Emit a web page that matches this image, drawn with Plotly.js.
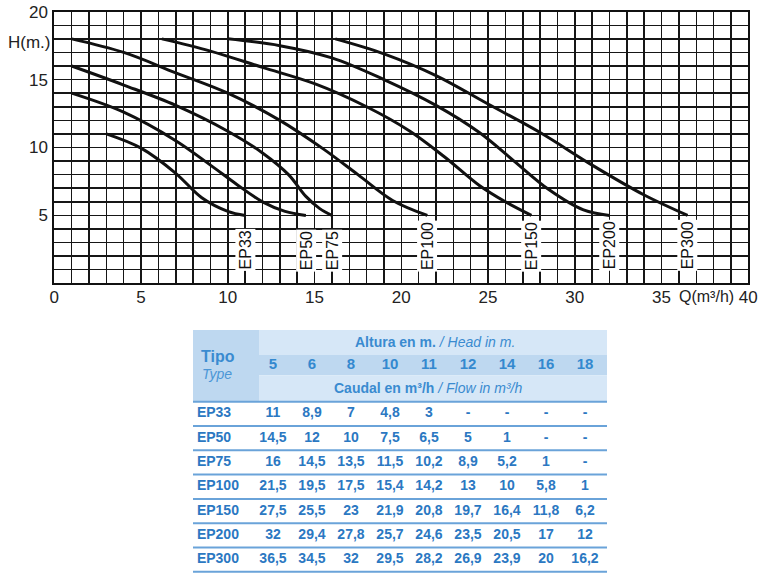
<!DOCTYPE html>
<html>
<head>
<meta charset="utf-8">
<script src="https://cdn.plot.ly/plotly-3.0.1.min.js"></script>
<style>html,body{margin:0;padding:0;background:#fff;}#chart{width:766px;height:573px;}</style>
</head>
<body>
<div id="chart"></div>
<script>
// ---- Table data (head in m -> flow in m3/h) ----
const heads = [5, 6, 8, 10, 11, 12, 14, 16, 18];
const pumpTypes = ['EP33', 'EP50', 'EP75', 'EP100', 'EP150', 'EP200', 'EP300'];
const flowEP33  = [11, 8.9, 7, 4.8, 3, null, null, null, null];
const flowEP50  = [14.5, 12, 10, 7.5, 6.5, 5, 1, null, null];
const flowEP75  = [16, 14.5, 13.5, 11.5, 10.2, 8.9, 5.2, 1, null];
const flowEP100 = [21.5, 19.5, 17.5, 15.4, 14.2, 13, 10, 5.8, 1];
const flowEP150 = [27.5, 25.5, 23, 21.9, 20.8, 19.7, 16.4, 11.8, 6.2];
const flowEP200 = [32, 29.4, 27.8, 25.7, 24.6, 23.5, 20.5, 17, 12];
const flowEP300 = [36.5, 34.5, 32, 29.5, 28.2, 26.9, 23.9, 20, 16.2];
const allFlows = [flowEP33, flowEP50, flowEP75, flowEP100, flowEP150, flowEP200, flowEP300];

// ---- Pump curves (Q in m3/h, H in m) ----
const curveEP33Q  = [3, 5, 7, 8.5, 10, 11];
const curveEP33H  = [11, 9.95, 8.1, 6.3, 5.3, 5];
const curveEP50Q  = [1, 4, 7, 9, 10.5, 12, 13.3, 14.5];
const curveEP50H  = [14, 12.6, 10.5, 8.7, 7.3, 6.0, 5.3, 5.0];
const curveEP75Q  = [1, 4, 7, 10, 12, 13.5, 14.5, 15.3, 16];
const curveEP75H  = [16, 14.6, 13.1, 11.2, 9.6, 8.0, 6.4, 5.5, 5.0];
const curveEP100Q = [1, 4, 7, 10, 13, 15.5, 17.5, 19.5, 21.5];
const curveEP100H = [18, 17.0, 15.5, 14, 12, 9.9, 8, 6.1, 5.0];
const curveEP150Q = [6.2, 9, 12, 15, 18, 20.5, 22.5, 24.5, 26, 27.5];
const curveEP150H = [18, 17.1, 15.9, 14.7, 13.0, 11.2, 9.3, 7.2, 6.0, 5.0];
const curveEP200Q = [10, 13, 16, 19, 22, 24.5, 26.5, 28.5, 30.5, 32];
const curveEP200H = [18, 17.5, 16.6, 15.0, 13.1, 11.1, 9.0, 6.9, 5.4, 5.0];
const curveEP300Q = [16.2, 19, 22, 25, 28, 31, 34, 36.5];
const curveEP300H = [18, 16.9, 15.3, 13.2, 11.1, 8.7, 6.5, 5.0];
const curvesQ = [curveEP33Q, curveEP50Q, curveEP75Q, curveEP100Q, curveEP150Q, curveEP200Q, curveEP300Q];
const curvesH = [curveEP33H, curveEP50H, curveEP75H, curveEP100H, curveEP150H, curveEP200H, curveEP300H];

// ---- Axis tick labels ----
const xTickVals = [0, 5, 10, 15, 20, 25, 30, 35, 40];
const xTickText = ['0', '5', '10', '15', '20', '25', '30', '35', '40'];
const yTickVals = [5, 10, 15, 20];
const yTickText = ['5', '10', '15', '20'];

const tickFont = {family: 'Liberation Sans, Arial, sans-serif', size: 17, color: '#222'};
const gridCol = '#161616';
const blueTxt = '#2b78c2';

const traces = [];
const annotations = [];

pumpTypes.forEach((name, i) => {
  traces.push({
    type: 'scatter', mode: 'lines', x: curvesQ[i], y: curvesH[i], xaxis: 'x', yaxis: 'y',
    line: {color: '#111', width: 3, shape: 'spline', smoothing: 1},
    hoverinfo: 'skip', showlegend: false
  });
  const q = curvesQ[i];
  annotations.push({
    xref: 'x', yref: 'y', x: q[q.length - 1], y: 0.85, yanchor: 'bottom', xanchor: 'center',
    text: name, textangle: -90, showarrow: false, bgcolor: '#fff', borderpad: 1,
    font: {family: 'Liberation Sans, Arial, sans-serif', size: 16, color: '#111'}
  });
});

annotations.push({xref: 'x', yref: 'paper', x: 37.6, y: (573 - 296) / 573, yanchor: 'middle', xanchor: 'center',
  text: 'Q(m³/h)', showarrow: false, font: {family: 'Liberation Sans, Arial, sans-serif', size: 16, color: '#222'}});
annotations.push({xref: 'paper', yref: 'y', x: 29 / 766, y: 17.75, xanchor: 'center', yanchor: 'middle',
  text: 'H(m.)', showarrow: false, font: tickFont});

// ---- Table drawn on x2/y2 ----
const colX0 = 2.051;
const headX = heads.map((_, i) => colX0 + i);
const rowY = pumpTypes.map((_, r) => r + 0.5);

const valX = [], valY = [], valT = [];
allFlows.forEach((row, r) => {
  row.forEach((v, j) => {
    valX.push(headX[j]); valY.push(rowY[r]);
    valT.push(v === null ? '-' : String(v).replace('.', ','));
  });
});
traces.push({
  type: 'scatter', mode: 'text', x: valX, y: valY, text: valT, xaxis: 'x2', yaxis: 'y2',
  textposition: 'middle center', hoverinfo: 'skip', showlegend: false,
  textfont: {family: 'Liberation Sans, Arial, sans-serif', size: 14, color: blueTxt},
  texttemplate: '<b>%{text}</b>'
});
traces.push({
  type: 'scatter', mode: 'text', x: pumpTypes.map(() => 0.1), y: rowY, text: pumpTypes, xaxis: 'x2', yaxis: 'y2',
  textposition: 'middle right', hoverinfo: 'skip', showlegend: false,
  textfont: {family: 'Liberation Sans, Arial, sans-serif', size: 14, color: blueTxt},
  texttemplate: '<b>%{text}</b>'
});
traces.push({
  type: 'scatter', mode: 'text', x: headX, y: heads.map(() => -1.5), text: heads.map(String), xaxis: 'x2', yaxis: 'y2',
  textposition: 'middle center', hoverinfo: 'skip', showlegend: false,
  textfont: {family: 'Liberation Sans, Arial, sans-serif', size: 15, color: '#3489cf'},
  texttemplate: '<b>%{text}</b>'
});

const tblRight = 414 / 39;
const shapes = [
  {type: 'rect', xref: 'x2', yref: 'y2', x0: 0, x1: tblRight, y0: -2.951, y1: -1.92, fillcolor: '#d6e7f7', line: {width: 0}, layer: 'below'},
  {type: 'rect', xref: 'x2', yref: 'y2', x0: 0, x1: tblRight, y0: -1.92, y1: -1.09, fillcolor: '#bed8f0', line: {width: 0}, layer: 'below'},
  {type: 'rect', xref: 'x2', yref: 'y2', x0: 0, x1: tblRight, y0: -1.09, y1: 0, fillcolor: '#d6e7f7', line: {width: 0}, layer: 'below'},
  {type: 'rect', xref: 'x2', yref: 'y2', x0: 0, x1: 66 / 39, y0: -2.951, y1: 0, fillcolor: '#bed8f0', line: {width: 0}, layer: 'below'}
];
for (let k = 0; k <= pumpTypes.length; k++) {
  shapes.push({type: 'line', xref: 'x2', yref: 'y2', x0: 0, x1: tblRight, y0: k, y1: k,
    line: {color: '#6aa3d9', width: 2}});
}
annotations.push({xref: 'x2', yref: 'y2', x: 6.2, y: -2.45, showarrow: false, xanchor: 'center', yanchor: 'middle',
  text: '<b>Altura en m.</b> <i>/ Head in m.</i>', font: {family: 'Liberation Sans, Arial, sans-serif', size: 14, color: '#3a8bd0'}});
annotations.push({xref: 'x2', yref: 'y2', x: 6.03, y: -0.56, showarrow: false, xanchor: 'center', yanchor: 'middle',
  text: '<b>Caudal en m³/h</b> <i>/ Flow in m³/h</i>', font: {family: 'Liberation Sans, Arial, sans-serif', size: 14, color: '#3a8bd0'}});
annotations.push({xref: 'x2', yref: 'y2', x: 0.65, y: -1.85, showarrow: false, xanchor: 'center', yanchor: 'middle',
  text: '<b>Tipo</b>', font: {family: 'Liberation Sans, Arial, sans-serif', size: 16, color: '#3a8bd0'}});
annotations.push({xref: 'x2', yref: 'y2', x: 0.62, y: -1.16, showarrow: false, xanchor: 'center', yanchor: 'middle',
  text: '<i>Type</i>', font: {family: 'Liberation Sans, Arial, sans-serif', size: 14, color: '#4a96d6'}});

const layout = {
  width: 766, height: 573,
  margin: {l: 0, r: 0, t: 0, b: 0},
  paper_bgcolor: '#fff', plot_bgcolor: '#fff',
  showlegend: false,
  xaxis: {
    domain: [54.3 / 766, 748.3 / 766], range: [0, 40], fixedrange: true,
    tickmode: 'array', tickvals: xTickVals, ticktext: xTickText, tickfont: tickFont,
    ticks: '', showgrid: true, gridcolor: gridCol, gridwidth: 1.5,
    minor: {tickmode: 'linear', tick0: 0, dtick: 1, showgrid: true, gridcolor: gridCol, gridwidth: 1.5},
    showline: true, mirror: true, linecolor: '#111', linewidth: 2, zeroline: false, automargin: false,
    ticklabelstandoff: -3
  },
  yaxis: {
    domain: [(573 - 283.3) / 573, (573 - 11.7) / 573], range: [0, 20], fixedrange: true,
    tickmode: 'array', tickvals: yTickVals, ticktext: yTickText, tickfont: tickFont,
    ticks: '', showgrid: true, gridcolor: gridCol, gridwidth: 1.5,
    minor: {tickmode: 'linear', tick0: 0, dtick: 1, showgrid: true, gridcolor: gridCol, gridwidth: 1.5},
    showline: true, mirror: true, linecolor: '#111', linewidth: 2, zeroline: false, automargin: false,
    ticklabelstandoff: 1
  },
  xaxis2: {domain: [193 / 766, 607 / 766], range: [0, tblRight], anchor: 'y2', visible: false, fixedrange: true},
  yaxis2: {domain: [0, (573 - 330) / 573], range: [7.05, -2.951], anchor: 'x2', visible: false, fixedrange: true},
  shapes: shapes,
  annotations: annotations
};

Plotly.newPlot('chart', traces, layout, {displayModeBar: false, staticPlot: true});
</script>
</body>
</html>
